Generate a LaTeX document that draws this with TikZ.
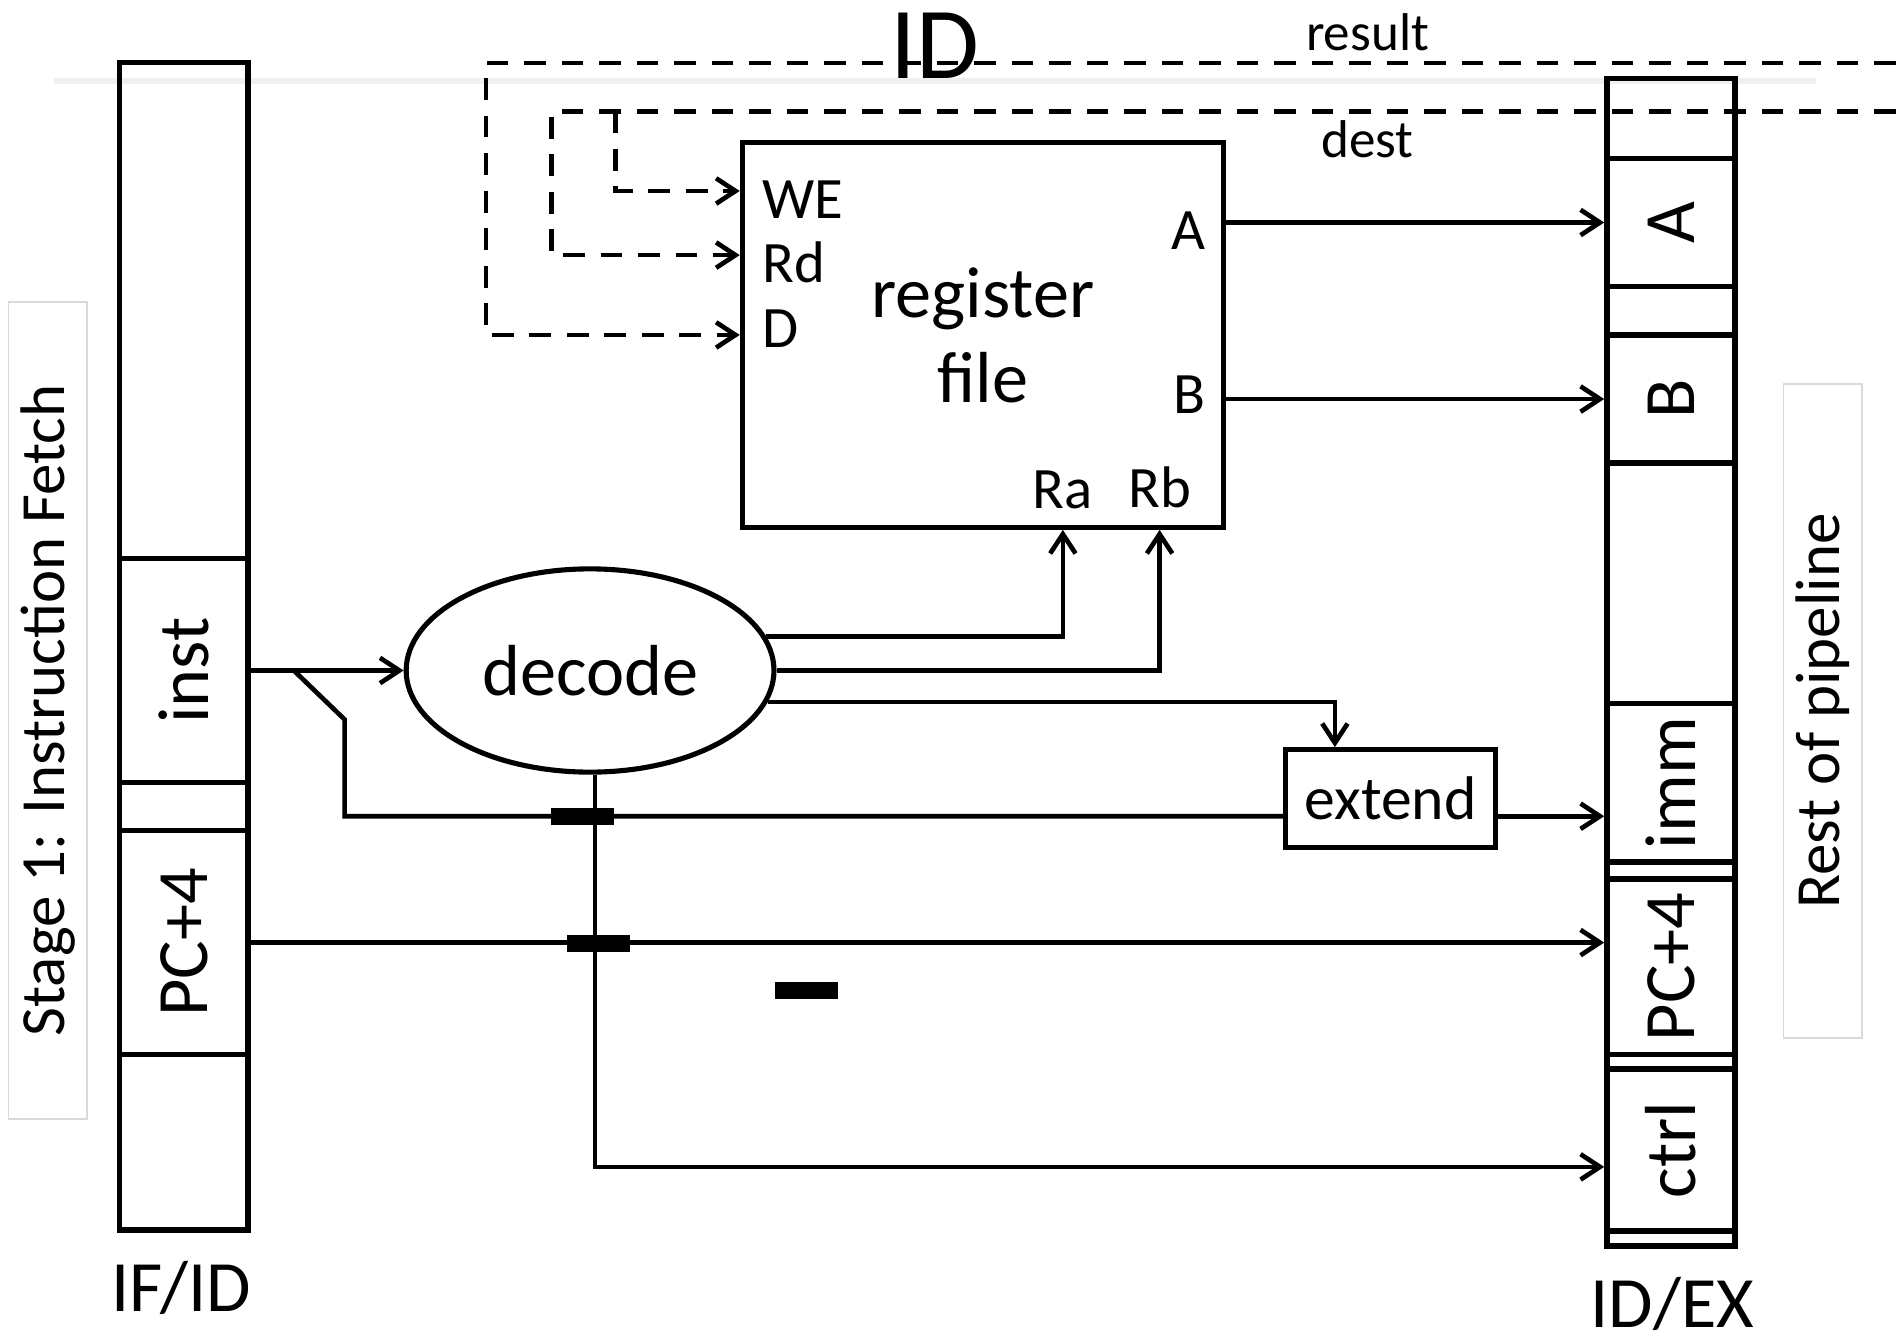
\documentclass[tikz,border=0pt]{standalone}
\usepackage{fontspec}
\setmainfont{Carlito}
\usepackage{tikz}
\usetikzlibrary{shapes.geometric, arrows.meta, positioning, calc}

\begin{document}
\begin{tikzpicture}[
  x=0.01cm, y=-0.01cm,
  font=\fontsize{17}{20}\selectfont,
  >={Straight Barb[length=1.6mm, width=2.1mm]},
  wire/.style={line width=1.1pt},
  bus/.style={wire, dash pattern=on 0.18cm off 0.13cm},
  latch/.style={draw, line width=1.3pt, minimum width=1.06cm, inner sep=0pt},
  unit/.style={draw, line width=1.2pt, inner sep=0pt, align=center},
  port/.style={inner sep=0pt, font=\fontsize{13.8}{16}\selectfont},
  side/.style={draw=black!15, line width=0.4pt, minimum width=0.65cm, inner sep=0pt,
               font=\fontsize{14.8}{17}\selectfont},
  bar/.style={fill=black, minimum width=0.52cm, minimum height=0.14cm, inner sep=0pt},
  sig/.style={inner sep=0pt, font=\fontsize{12.5}{15}\selectfont},
]
\useasboundingbox (0,0) rectangle (1568,1108);

% faint rule under the title
\draw[black!6, line width=1.4pt] (45,67) -- (1502,67);
\node[font=\fontsize{24}{28}\selectfont] (title) at (773,38) {ID};

% side captions
\node[side, minimum height=6.75cm] (stage) at (39.5,587.5) {\rotatebox{90}{Stage 1: Instruction Fetch}};
\node[side, minimum height=5.4cm]  (rest)  at (1507.5,588) {\rotatebox{90}{Rest of pipeline}};

% IF/ID latch
\node[latch, minimum height=9.65cm] (ifid) at (152,534.5) {};
\node[latch, minimum height=1.85cm] (inst) at (152,554.5) {\rotatebox{90}{inst}};
\node[latch, minimum height=1.85cm] (pc)   at (152,779.5) {\rotatebox{90}{PC+4}};
\node (ifidlbl) at (150,1065) {IF/ID};

% ID/EX latch
\node[latch, minimum height=9.65cm] (idex) at (1382,547.5) {};
\node[latch, minimum height=1.06cm] (A)    at (1382,184)   {\rotatebox{90}{A}};
\node[latch, minimum height=1.06cm] (B)    at (1382,330)   {\rotatebox{90}{B}};
\node[latch, minimum height=1.31cm] (imm)  at (1382,647.5) {\rotatebox{90}{imm}};
\node[latch, minimum height=1.45cm] (pcx)  at (1382,799.5) {\rotatebox{90}{PC+4}};
\node[latch, minimum height=1.34cm] (ctrl) at (1382,951)   {\rotatebox{90}{ctrl}};
\node (idexlbl) at (1383,1078) {ID/EX};

% register file and its ports
\node[unit, minimum width=3.98cm, minimum height=3.18cm] (rf) at (813,277) {register\\file};
\node[port, anchor=west] (we) at (630,165) {WE};
\node[port, anchor=west] (rd) at (630,217) {Rd};
\node[port, anchor=west] (d)  at (630,272) {D};
\node[port, anchor=east] (a)  at (998,191) {A};
\node[port, anchor=east] (b)  at (998,326) {B};
\node[port] (ra) at (879,405) {Ra};
\node[port] (rb) at (959,403) {Rb};

% decode and extend
\node[unit, ellipse, minimum width=3.04cm, minimum height=1.68cm] (decode) at (488,554.5) {decode};
\node[unit, minimum width=1.74cm, minimum height=0.81cm, font=\fontsize{14.5}{17}\selectfont] (extend) at (1150,660.5) {extend};

% write-back buses
\coordinate (resultR) at (1568,52);
\coordinate (destR)   at (1568,92);
\coordinate (resultL) at (402,52);
\coordinate (destL)   at (456,92);
\coordinate (weTap)   at (509,92);
\draw[bus,->] (resultR) -- (resultL) |- (rf.west);
\draw[bus,->] (destR) -- (destL) |- ([yshift=0.66cm]rf.west);
\draw[bus,->] (weTap) |- ([yshift=1.19cm]rf.west);
\node[sig] (result) at (1131,27)  {result};
\node[sig] (dest)   at (1131,115) {dest};

% datapath wires
\coordinate (tap)  at (243,554.5);
\coordinate (knee) at (285,595);
\draw[wire,->] (inst) -- (decode);
\draw[wire] (tap) -- (knee) |- ([yshift=-0.145cm]extend.west);
\draw[wire,->] ([yshift=-0.145cm]extend.east) -- ([yshift=-0.145cm]extend.east -| imm.west);
\draw[wire,->] (decode.11) -| (ra |- rf.south);
\draw[wire,->] (decode.east) -| (rb |- rf.south);
\draw[wire,->] (decode.-10) -| ([xshift=-0.46cm]extend.north);
\draw[wire,->] (pc.east) -- (pc.east -| pcx.west);
\draw[wire,->] ([xshift=0.04cm]decode.south) |- ([yshift=-0.14cm]ctrl.west);
\draw[wire,->] (rf.east |- A) -- (A);
\draw[wire,->] (rf.east |- B) -- (B);

% bars
\node[bar] (bar1) at (482,675) {};
\node[bar] (bar2) at (495,780) {};
\node[bar] (bar3) at (667,819) {};
\end{tikzpicture}
\end{document}
